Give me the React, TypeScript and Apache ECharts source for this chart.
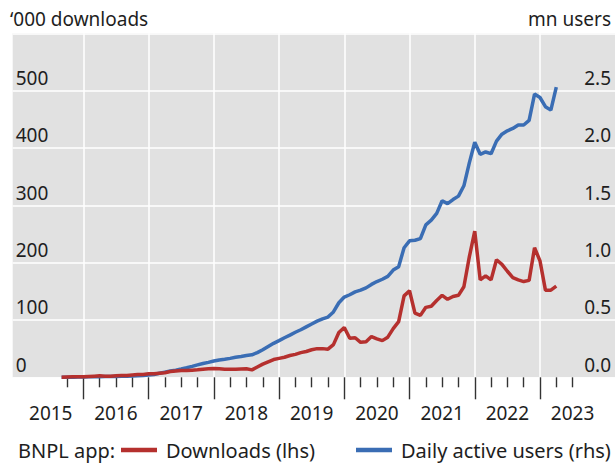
import React, { useEffect, useRef } from 'react';
import * as echarts from 'echarts';

// Monthly observations, first month = Sep 2015
const startYear = 2015;
const startMonth = 9;

// '000 downloads (lhs)
const downloads = [
  0, 0.5, 1, 1,
  1, 1.5, 2, 2.5, 2, 2, 2.5, 3, 3, 4, 5, 5,
  6, 6, 7, 8, 10, 11, 12, 12, 12.5, 13, 14, 15,
  15.5, 15, 14, 14, 14, 14.5, 15, 13, 18, 23, 27, 31,
  33, 35, 38, 40, 43, 45, 48, 50, 50, 49, 57, 78,
  87, 68, 69, 61, 62, 71, 67, 64, 70, 85, 97, 142,
  151, 112, 108, 122, 124, 134, 143, 136, 141, 143, 158, 210,
  255, 170, 177, 170, 205, 197, 185, 174, 170, 167, 169, 226,
  203, 152, 152, 159,
];

// mn daily active users (rhs)
const activeUsers = [
  0, 0, 0, 0.002,
  0.003, 0.004, 0.005, 0.005, 0.006, 0.007, 0.008, 0.009, 0.01, 0.011, 0.013, 0.015,
  0.02, 0.025, 0.035, 0.045, 0.055, 0.062, 0.072, 0.083, 0.095, 0.108, 0.12, 0.13,
  0.142, 0.15, 0.157, 0.165, 0.175, 0.182, 0.19, 0.196, 0.215, 0.24, 0.268, 0.296,
  0.32, 0.345, 0.368, 0.393, 0.415, 0.44, 0.465, 0.49, 0.51, 0.525, 0.57, 0.65,
  0.7, 0.72, 0.745, 0.76, 0.78, 0.81, 0.835, 0.855, 0.88, 0.935, 0.965, 1.13,
  1.19, 1.195, 1.21, 1.33, 1.37, 1.43, 1.54, 1.515, 1.55, 1.58, 1.67, 1.87,
  2.05, 1.945, 1.965, 1.95, 2.06, 2.12, 2.15, 2.17, 2.2, 2.2, 2.24, 2.47,
  2.44, 2.36, 2.33, 2.53,
];

const yearLabels = ['2015', '2016', '2017', '2018', '2019', '2020', '2021', '2022', '2023'];
const leftTicks = [0, 100, 200, 300, 400, 500];
const rightTicks = [0, 0.5, 1, 1.5, 2, 2.5];

const seriesNames = ['Downloads (lhs)', 'Daily active users (rhs)'];
const RED = '#b5302e';
const BLUE = '#3a6db4';
const FONT = 'Noto Sans';
const TEXT = '#1e1e1e';

// months since Jan 2016
const monthIndex = (i: number) => (startYear - 2016) * 12 + (startMonth - 1) + i;

const yearStarts = yearLabels.slice(1).map((_, k) => k * 12); // 2016..2023 boundaries
const yearMids = yearLabels.map((_, k) => (k - 1) * 12 + 6);
const quarterTicks: number[] = [];
for (let m = -3; m <= 90; m += 3) if (m % 12 !== 0) quarterTicks.push(m);

const X_MIN = -13;
const X_MAX = 97.8;

const legendBase = {
  orient: 'horizontal',
  top: 440,
  padding: 0,
  icon: 'rect',
  itemWidth: 36,
  itemHeight: 4.5,
  textStyle: { fontFamily: FONT, fontSize: 20, color: TEXT, padding: [0, 0, 0, 4] },
};

export default function App() {
  const ref = useRef<HTMLDivElement>(null);
  useEffect(() => {
    if (!ref.current) return;
    const chart = echarts.init(ref.current, undefined, { renderer: 'svg' });
    const option: any = {
      animation: false,
      textStyle: { fontFamily: FONT },
      grid: {
        left: 12.7,
        right: 0,
        top: 33.3,
        bottom: 87.7,
        show: true,
        backgroundColor: '#e1e1e1',
        borderWidth: 0,
      },
      legend: [
        { ...legendBase, data: [seriesNames[0]], left: 121, width: 230 },
        { ...legendBase, data: [seriesNames[1]], left: 356, width: 259 },
      ],
      graphic: [
        {
          type: 'text',
          left: 10,
          top: 9,
          style: { text: "\u2018000 downloads", font: `19px ${FONT}`, fill: TEXT },
        },
        {
          type: 'text',
          right: 4,
          top: 9,
          style: { text: 'mn users', font: `19px ${FONT}`, fill: TEXT },
        },
        {
          type: 'text',
          left: 18,
          top: 440,
          style: { text: 'BNPL app:', font: `20px ${FONT}`, fill: TEXT },
        },
      ],
      xAxis: [
        {
          type: 'value',
          min: X_MIN,
          max: X_MAX,
          axisLine: { show: false },
          axisTick: {
            show: true,
            customValues: yearStarts,
            length: 22,
            lineStyle: { color: '#333', width: 1.4 },
          },
          splitLine: { show: true, lineStyle: { color: '#ffffff', width: 1.5 } },
          axisLabel: {
            customValues: yearMids,
            formatter: (v: number) => String(2016 + Math.floor(v / 12)),
            margin: 26,
            fontSize: 19,
            color: TEXT,
            fontFamily: FONT,
          },
        },
        {
          type: 'value',
          min: X_MIN,
          max: X_MAX,
          position: 'bottom',
          axisLine: { show: false },
          axisTick: {
            show: true,
            customValues: quarterTicks,
            length: 10,
            lineStyle: { color: '#333', width: 1.4 },
          },
          splitLine: { show: false },
          axisLabel: { show: false },
        },
      ],
      yAxis: [
        {
          type: 'value',
          min: 0,
          max: 600,
          interval: 100,
          position: 'left',
          axisLine: { show: false },
          axisTick: { show: false },
          splitLine: { show: true, lineStyle: { color: '#ffffff', width: 1.5 } },
          axisLabel: {
            inside: true,
            verticalAlign: 'bottom',
            margin: 3,
            fontSize: 19,
            color: TEXT,
            fontFamily: FONT,
            padding: [0, 0, 3, 0],
            formatter: (v: number) => (leftTicks.includes(v) ? String(v) : ''),
          },
        },
        {
          type: 'value',
          min: 0,
          max: 3,
          interval: 0.5,
          position: 'right',
          axisLine: { show: false },
          axisTick: { show: false },
          splitLine: { show: false },
          axisLabel: {
            inside: true,
            verticalAlign: 'bottom',
            margin: 4,
            fontSize: 19,
            color: TEXT,
            fontFamily: FONT,
            padding: [0, 0, 3, 0],
            formatter: (v: number) => (rightTicks.includes(v) ? v.toFixed(1) : ''),
          },
        },
      ],
      series: [
        {
          name: seriesNames[0],
          type: 'line',
          xAxisIndex: 0,
          yAxisIndex: 0,
          showSymbol: false,
          data: downloads.map((v, i) => [monthIndex(i), v]),
          lineStyle: { color: RED, width: 3.5 },
          itemStyle: { color: RED },
          z: 3,
        },
        {
          name: seriesNames[1],
          type: 'line',
          xAxisIndex: 0,
          yAxisIndex: 1,
          showSymbol: false,
          data: activeUsers.map((v, i) => [monthIndex(i), v]),
          lineStyle: { color: BLUE, width: 3.5 },
          itemStyle: { color: BLUE },
          z: 2,
        },
      ],
    };
    chart.setOption(option);
    return () => chart.dispose();
  }, []);
  return (
    <div
      ref={ref}
      style={{ position: 'absolute', left: 0, top: 0, width: 615, height: 465 }}
    />
  );
}
